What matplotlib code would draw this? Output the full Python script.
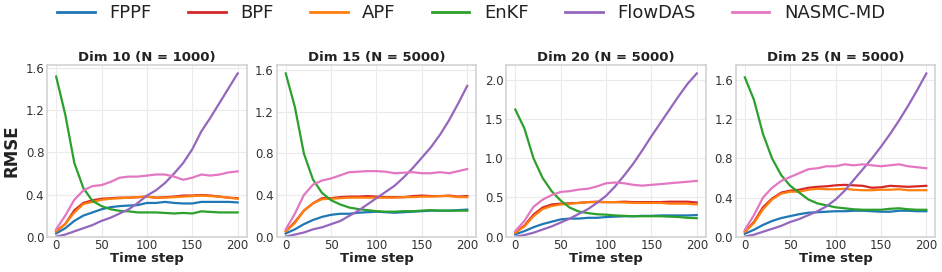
import numpy as np
import matplotlib
matplotlib.use("Agg")
import matplotlib.pyplot as plt

# time steps (sampled every 10 steps)
steps = np.arange(0, 201, 10)

methods = ['FPPF', 'BPF', 'APF', 'EnKF', 'FlowDAS', 'NASMC-MD']
colors = ['#1f77b4', '#d62728', '#ff7f0e', '#2ca02c', '#9467bd', '#e377c2']

titles = ['Dim 10 (N = 1000)', 'Dim 15 (N = 5000)', 'Dim 20 (N = 5000)', 'Dim 25 (N = 5000)']

# Dim 10
d10_fppf = [0.03, 0.08, 0.15, 0.20, 0.23, 0.26, 0.28, 0.29, 0.295, 0.30, 0.32, 0.32, 0.33, 0.32, 0.315, 0.315, 0.33, 0.33, 0.33, 0.33, 0.325]
d10_bpf = [0.05, 0.12, 0.25, 0.32, 0.345, 0.36, 0.365, 0.37, 0.37, 0.375, 0.38, 0.37, 0.375, 0.38, 0.39, 0.39, 0.395, 0.39, 0.38, 0.37, 0.365]
d10_apf = [0.05, 0.12, 0.23, 0.31, 0.33, 0.35, 0.36, 0.365, 0.37, 0.375, 0.38, 0.37, 0.37, 0.375, 0.38, 0.385, 0.39, 0.385, 0.38, 0.37, 0.36]
d10_enkf = [1.52, 1.16, 0.70, 0.46, 0.34, 0.29, 0.26, 0.245, 0.24, 0.23, 0.23, 0.23, 0.225, 0.22, 0.225, 0.22, 0.24, 0.235, 0.23, 0.23, 0.23]
d10_flow = [0.0, 0.02, 0.05, 0.08, 0.11, 0.15, 0.18, 0.22, 0.26, 0.32, 0.39, 0.44, 0.51, 0.60, 0.70, 0.83, 1.00, 1.13, 1.27, 1.41, 1.55]
d10_nasmc = [0.07, 0.20, 0.35, 0.44, 0.48, 0.49, 0.52, 0.56, 0.57, 0.57, 0.58, 0.59, 0.59, 0.57, 0.54, 0.56, 0.59, 0.58, 0.59, 0.61, 0.62]

# Dim 15
d15_fppf = [0.03, 0.07, 0.12, 0.16, 0.19, 0.21, 0.22, 0.22, 0.23, 0.235, 0.24, 0.235, 0.23, 0.235, 0.24, 0.245, 0.25, 0.25, 0.25, 0.255, 0.26]
d15_bpf = [0.05, 0.14, 0.25, 0.32, 0.37, 0.37, 0.38, 0.385, 0.385, 0.39, 0.385, 0.38, 0.38, 0.38, 0.39, 0.395, 0.39, 0.39, 0.395, 0.385, 0.39]
d15_apf = [0.05, 0.13, 0.25, 0.32, 0.36, 0.365, 0.37, 0.375, 0.375, 0.375, 0.375, 0.375, 0.375, 0.38, 0.38, 0.385, 0.385, 0.39, 0.39, 0.38, 0.38]
d15_enkf = [1.57, 1.25, 0.80, 0.55, 0.42, 0.35, 0.31, 0.28, 0.265, 0.255, 0.245, 0.24, 0.24, 0.245, 0.245, 0.25, 0.255, 0.25, 0.25, 0.25, 0.25]
d15_flow = [0.0, 0.02, 0.04, 0.07, 0.09, 0.12, 0.15, 0.20, 0.25, 0.31, 0.37, 0.43, 0.49, 0.57, 0.66, 0.76, 0.86, 0.98, 1.12, 1.28, 1.45]
d15_nasmc = [0.07, 0.22, 0.40, 0.50, 0.54, 0.56, 0.59, 0.62, 0.625, 0.63, 0.63, 0.625, 0.61, 0.615, 0.62, 0.61, 0.61, 0.62, 0.61, 0.63, 0.65]

# Dim 20
d20_fppf = [0.03, 0.07, 0.12, 0.16, 0.19, 0.22, 0.23, 0.23, 0.24, 0.24, 0.25, 0.255, 0.26, 0.26, 0.265, 0.265, 0.27, 0.27, 0.27, 0.27, 0.275]
d20_bpf = [0.05, 0.14, 0.28, 0.37, 0.41, 0.42, 0.425, 0.43, 0.44, 0.445, 0.44, 0.44, 0.445, 0.44, 0.44, 0.44, 0.44, 0.445, 0.445, 0.445, 0.435]
d20_apf = [0.05, 0.13, 0.26, 0.35, 0.39, 0.41, 0.42, 0.43, 0.44, 0.44, 0.44, 0.44, 0.435, 0.43, 0.43, 0.43, 0.43, 0.42, 0.42, 0.42, 0.41]
d20_enkf = [1.62, 1.38, 1.00, 0.75, 0.58, 0.46, 0.37, 0.32, 0.30, 0.285, 0.28, 0.27, 0.265, 0.26, 0.26, 0.26, 0.26, 0.255, 0.25, 0.24, 0.235]
d20_flow = [0.0, 0.02, 0.05, 0.09, 0.13, 0.18, 0.23, 0.29, 0.35, 0.43, 0.52, 0.64, 0.78, 0.93, 1.10, 1.28, 1.45, 1.62, 1.79, 1.95, 2.08]
d20_nasmc = [0.07, 0.20, 0.38, 0.47, 0.53, 0.57, 0.58, 0.60, 0.61, 0.64, 0.68, 0.69, 0.68, 0.66, 0.65, 0.66, 0.67, 0.68, 0.69, 0.70, 0.71]

# Dim 25
d25_fppf = [0.03, 0.07, 0.12, 0.16, 0.19, 0.21, 0.23, 0.245, 0.25, 0.255, 0.26, 0.26, 0.265, 0.265, 0.26, 0.255, 0.255, 0.265, 0.265, 0.26, 0.26]
d25_bpf = [0.05, 0.15, 0.30, 0.39, 0.45, 0.47, 0.48, 0.50, 0.51, 0.515, 0.525, 0.53, 0.525, 0.52, 0.50, 0.505, 0.52, 0.515, 0.51, 0.515, 0.52]
d25_apf = [0.05, 0.14, 0.28, 0.38, 0.44, 0.46, 0.46, 0.48, 0.49, 0.485, 0.485, 0.49, 0.48, 0.475, 0.475, 0.48, 0.48, 0.485, 0.475, 0.475, 0.475]
d25_enkf = [1.63, 1.40, 1.05, 0.80, 0.63, 0.52, 0.45, 0.38, 0.34, 0.32, 0.30, 0.29, 0.28, 0.275, 0.275, 0.275, 0.285, 0.29, 0.28, 0.275, 0.275]
d25_flow = [0.0, 0.02, 0.05, 0.08, 0.11, 0.15, 0.18, 0.22, 0.26, 0.31, 0.38, 0.47, 0.58, 0.69, 0.80, 0.92, 1.05, 1.19, 1.34, 1.50, 1.67]
d25_nasmc = [0.07, 0.22, 0.40, 0.50, 0.57, 0.61, 0.65, 0.69, 0.70, 0.72, 0.72, 0.74, 0.73, 0.74, 0.73, 0.72, 0.73, 0.74, 0.72, 0.71, 0.70]

panels = [
    [d10_fppf, d10_bpf, d10_apf, d10_enkf, d10_flow, d10_nasmc],
    [d15_fppf, d15_bpf, d15_apf, d15_enkf, d15_flow, d15_nasmc],
    [d20_fppf, d20_bpf, d20_apf, d20_enkf, d20_flow, d20_nasmc],
    [d25_fppf, d25_bpf, d25_apf, d25_enkf, d25_flow, d25_nasmc],
]
yticks = [
    [0, 0.4, 0.8, 1.2, 1.6],
    [0, 0.4, 0.8, 1.2, 1.6],
    [0, 0.5, 1.0, 1.5, 2.0],
    [0, 0.4, 0.8, 1.2, 1.6],
]

fig, axes = plt.subplots(1, 4, figsize=(9.42, 2.72), dpi=100)
fig.subplots_adjust(left=0.05, right=0.993, bottom=0.13, top=0.76, wspace=0.15)

for ax, series, title, yt in zip(axes, panels, titles, yticks):
    for vals, name, c in zip(series, methods, colors):
        ax.plot(steps, vals, color=c, lw=1.6, label=name)
    ymax = max(max(v) for v in series)
    ax.set_ylim(0, 1.05 * ymax)
    ax.set_yticks(yt)
    ax.set_xticks([0, 50, 100, 150, 200])
    ax.set_title(title, fontsize=9.5, fontweight='bold', color='#222222', pad=3)
    ax.set_xlabel('Time step', fontsize=9.5, fontweight='bold', color='#222222', labelpad=0)
    ax.tick_params(labelsize=8.5, colors='#333333', length=0, pad=2)
    ax.grid(True, color='#ebebeb', lw=0.8)
    ax.set_axisbelow(True)
    for s in ax.spines.values():
        s.set_color('#d0d0d0')
        s.set_linewidth(1.1)

axes[0].set_ylabel('RMSE', fontsize=12, fontweight='bold', color='#222222', labelpad=4)

handles, labels = axes[0].get_legend_handles_labels()
leg = fig.legend(handles, labels, loc='upper center', bbox_to_anchor=(0.5, 1.045), ncol=6,
                 frameon=False, fontsize=13, handlelength=2.1, columnspacing=2.0,
                 handletextpad=0.8)
for line in leg.get_lines():
    line.set_linewidth(2.0)
for t in leg.get_texts():
    t.set_color('#222222')

fig.savefig('out.png', dpi=100)
